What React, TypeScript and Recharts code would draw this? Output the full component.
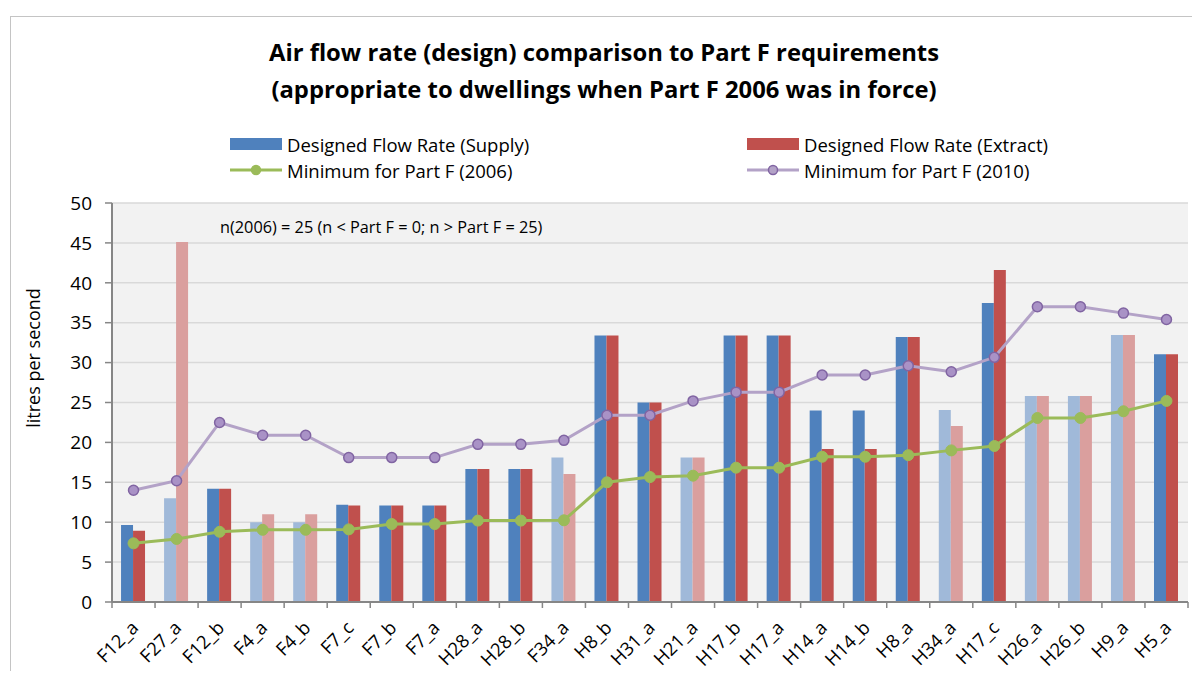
import React from "react"
import {
  ComposedChart,
  Bar,
  Line,
  XAxis,
  YAxis,
  CartesianGrid,
  Cell,
} from "recharts"

const categories = [
  "F12_a", "F27_a", "F12_b", "F4_a", "F4_b", "F7_c", "F7_b", "F7_a", "H28_a", "H28_b",
  "F34_a", "H8_b", "H31_a", "H21_a", "H17_b", "H17_a", "H14_a", "H14_b", "H8_a", "H34_a",
  "H17_c", "H26_a", "H26_b", "H9_a", "H5_a",
]

const supplyRates = [
  9.65, 13.0, 14.2, 10.0, 10.0, 12.2, 12.1, 12.1, 16.67, 16.67,
  18.1, 33.4, 25.0, 18.1, 33.4, 33.4, 24.0, 24.0, 33.2, 24.06,
  37.47, 25.8, 25.8, 33.46, 31.04,
]

const extractRates = [
  8.93, 45.1, 14.2, 11.0, 11.0, 12.1, 12.1, 12.1, 16.67, 16.67,
  16.04, 33.4, 25.0, 18.1, 33.4, 33.4, 19.17, 19.17, 33.2, 22.06,
  41.6, 25.8, 25.8, 33.46, 31.04,
]

const minPartF2006 = [
  7.35, 7.9, 8.8, 9.05, 9.05, 9.1, 9.77, 9.77, 10.2, 10.2,
  10.24, 15.0, 15.66, 15.83, 16.83, 16.83, 18.2, 18.2, 18.4, 19.0,
  19.55, 23.06, 23.06, 23.9, 25.2,
]

const minPartF2010 = [
  14.0, 15.2, 22.5, 20.9, 20.9, 18.1, 18.1, 18.1, 19.76, 19.76,
  20.26, 23.4, 23.4, 25.2, 26.3, 26.3, 28.45, 28.45, 29.6, 28.86,
  30.66, 37.0, 37.0, 36.2, 35.4,
]

// dwellings drawn in the paler shade
const faded = ["F27_a", "F4_a", "F4_b", "F34_a", "H21_a", "H34_a", "H26_a", "H26_b", "H9_a"]

const yTicks = [0, 5, 10, 15, 20, 25, 30, 35, 40, 45, 50]

const data = categories.map((name, i) => ({
  name,
  supply: supplyRates[i],
  extract: extractRates[i],
  min2006: minPartF2006[i],
  min2010: minPartF2010[i],
}))

const FONT = "'Open Sans', sans-serif"
const AXIS = "#868686"
const BLUE = "#4f81bd"
const BLUE_LIGHT = "#a0b9d9"
const RED = "#c0504d"
const RED_LIGHT = "#da9f9e"
const GREEN = "#9bbb59"
const PURPLE = "#b3a2c7"
const PURPLE_DARK = "#8064a2"

const PLOT_W = 1076

function XTick(props: any) {
  const { x, y, payload, index } = props
  const half = payload.offset ?? PLOT_W / categories.length / 2
  const left = x - half
  const right = x + half
  const tx = x + 6
  const ty = y + 27
  return (
    <g>
      <line x1={left} y1={y} x2={left} y2={y + 6} stroke={AXIS} strokeWidth={1.5} />
      {index === categories.length - 1 && (
        <line x1={right} y1={y} x2={right} y2={y + 6} stroke={AXIS} strokeWidth={1.5} />
      )}
      <text
        x={tx}
        y={ty}
        transform={`rotate(-45 ${tx} ${ty})`}
        textAnchor="end"
        fontSize={18.5}
        fontFamily={FONT}
        fill="#000"
      >
        {payload.value}
      </text>
    </g>
  )
}

function LegendItem({ kind, color, dark, label }: { kind: string; color: string; dark?: string; label: string }) {
  return (
    <div style={{ display: "flex", alignItems: "center", height: 26 }}>
      <svg width={52} height={14} style={{ marginRight: 5 }}>
        {kind === "bar" ? (
          <rect x={0} y={1} width={52} height={12} fill={color} />
        ) : (
          <>
            <line x1={0} y1={7} x2={52} y2={7} stroke={color} strokeWidth={3} />
            <circle cx={26} cy={7} r={4.5} fill={color} stroke={dark || color} strokeWidth={1.5} />
          </>
        )}
      </svg>
      <span style={{ fontSize: 18.5, fontFamily: FONT, color: "#000", whiteSpace: "nowrap" }}>{label}</span>
    </div>
  )
}

export default function App() {
  return (
    <div style={{ position: "relative", width: 1200, height: 679, margin: -8, overflow: "hidden", background: "#fff" }}>
      <div
        style={{
          position: "absolute", left: 10, top: 16, width: 1220, height: 700,
          border: "1px solid #c4c4c4", boxSizing: "border-box",
        }}
      />

      <div style={{ position: "absolute", left: 0, top: 0 }}>
        <ComposedChart
          width={1200}
          height={679}
          data={data}
          margin={{ top: 203, right: 12, bottom: 0, left: 0 }}
          barCategoryGap="21%"
          barGap={0}
        >
          <CartesianGrid vertical={false} fill="#f2f2f2" stroke="#d9d9d9" strokeWidth={1.5} />
          <XAxis
            dataKey="name"
            interval={0}
            height={77}
            tickLine={false}
            tickSize={0}
            tickMargin={0}
            axisLine={{ stroke: AXIS, strokeWidth: 2 }}
            tick={<XTick />}
          />
          <XAxis
            xAxisId="top"
            dataKey="name"
            orientation="top"
            height={0}
            tick={false}
            tickLine={false}
            axisLine={{ stroke: AXIS, strokeWidth: 2 }}
          />
          <YAxis
            domain={[0, 50]}
            ticks={yTicks}
            width={112}
            interval={0}
            tickSize={7}
            tickMargin={13}
            tickLine={{ stroke: AXIS, strokeWidth: 1.5 }}
            axisLine={{ stroke: AXIS, strokeWidth: 2 }}
            tick={{ fill: "#000", fontSize: 19, fontFamily: FONT }}
          />
          <YAxis
            yAxisId="right"
            orientation="right"
            domain={[0, 50]}
            width={0}
            tick={false}
            tickLine={false}
            axisLine={{ stroke: AXIS, strokeWidth: 2 }}
          />
          <Bar dataKey="supply" name="Designed Flow Rate (Supply)" isAnimationActive={false}>
            {categories.map((c) => (
              <Cell key={c} fill={faded.includes(c) ? BLUE_LIGHT : BLUE} />
            ))}
          </Bar>
          <Bar dataKey="extract" name="Designed Flow Rate (Extract)" isAnimationActive={false}>
            {categories.map((c) => (
              <Cell key={c} fill={faded.includes(c) ? RED_LIGHT : RED} />
            ))}
          </Bar>
          <Line
            dataKey="min2010"
            name="Minimum for Part F (2010)"
            stroke={PURPLE}
            strokeWidth={3}
            dot={{ r: 5, fill: "#a992c6", stroke: PURPLE_DARK, strokeWidth: 1.5 }}
            activeDot={false}
            isAnimationActive={false}
          />
          <Line
            dataKey="min2006"
            name="Minimum for Part F (2006)"
            stroke={GREEN}
            strokeWidth={3}
            dot={{ r: 5.5, fill: GREEN, stroke: GREEN, strokeWidth: 1 }}
            activeDot={false}
            isAnimationActive={false}
          />
        </ComposedChart>
      </div>

      <div
        style={{
          position: "absolute", left: 0, top: 34, width: 1208, textAlign: "center",
          fontFamily: FONT, fontWeight: 700, fontSize: 23.8, lineHeight: "37px", color: "#000",
        }}
      >
        Air flow rate (design) comparison to Part F requirements
        <br />
        (appropriate to dwellings when Part F 2006 was in force)
      </div>

      <div style={{ position: "absolute", left: 230, top: 131 }}>
        <LegendItem kind="bar" color={BLUE} label="Designed Flow Rate (Supply)" />
        <LegendItem kind="line" color={GREEN} label="Minimum for Part F (2006)" />
      </div>
      <div style={{ position: "absolute", left: 747, top: 131 }}>
        <LegendItem kind="bar" color={RED} label="Designed Flow Rate (Extract)" />
        <LegendItem kind="line" color={PURPLE} dark={PURPLE_DARK} label="Minimum for Part F (2010)" />
      </div>

      <div
        style={{
          position: "absolute", left: 220, top: 216, fontFamily: FONT, fontSize: 16.3, color: "#000",
          whiteSpace: "nowrap",
        }}
      >
        {"n(2006) = 25 (n < Part F = 0; n > Part F = 25)"}
      </div>

      <div
        style={{
          position: "absolute", left: 33, top: 358, transform: "translate(-50%, -50%) rotate(-90deg)",
          fontFamily: FONT, fontSize: 18, color: "#000", whiteSpace: "nowrap",
        }}
      >
        litres per second
      </div>
    </div>
  )
}
